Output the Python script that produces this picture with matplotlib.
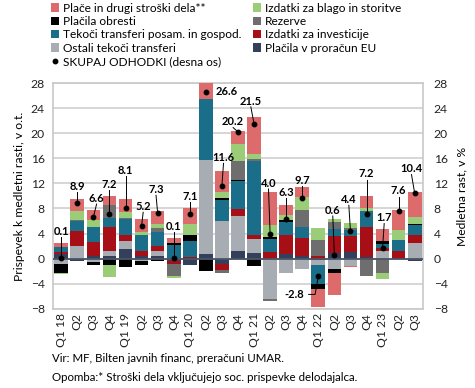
import matplotlib.pyplot as plt
import numpy as np

plt.rcParams['font.family'] = ['Lato', 'DejaVu Sans']

quarters = ['Q1 18', 'Q2', 'Q3', 'Q4', 'Q1 19', 'Q2', 'Q3', 'Q4', 'Q1 20', 'Q2', 'Q3', 'Q4',
            'Q1 21', 'Q2', 'Q3', 'Q4', 'Q1 22', 'Q2', 'Q3', 'Q4', 'Q1 23', 'Q2', 'Q3']

# contributions, percentage points (stacking order = Excel series order)
eu       = [0.7, -0.3, 0.5, 0.5, 1.6, 0.4, 0.5, -0.4, -1.0, 0.8, -0.9, 1.3, 0.9, 0.0, 0.8, 0.5, -0.2, 0.9, 1.0, 0.3, 0.0, 0.1, -0.4]
ostali   = [-0.9, 2.0, -0.6, 0.8, 1.2, -0.4, 0.7, 0.0, 0.0, 14.9, 6.0, 5.5, 2.2, -6.5, -2.3, -1.7, -0.8, -1.7, -1.1, 0.0, 1.2, 0.0, 2.5]
invest   = [0.3, 2.4, 2.1, 3.7, 0.9, 0.9, 0.8, -0.4, 0.3, 0.0, -0.9, 1.1, 0.6, 1.0, 3.0, 2.8, 0.5, 2.7, 2.6, 4.7, 0.5, 1.1, 1.3]
tekoci   = [0.8, 1.6, 2.4, 1.5, 2.6, 2.4, 2.2, 2.1, 2.5, 9.8, 3.4, 4.5, 11.9, 2.1, 2.0, 1.8, -3.1, 1.2, 1.0, 2.6, 0.6, 1.8, 1.6]
obresti  = [-1.4, 0.0, -0.4, -1.0, -1.4, -0.6, -0.3, 0.4, 1.0, -2.0, 0.2, 0.2, -1.1, 0.4, 0.4, 0.0, -0.8, -0.6, 0.0, 0.0, 0.5, 0.0, 0.1]
rezerve  = [0.1, 0.2, 0.0, 2.1, 0.2, 0.0, 0.7, -2.0, 0.0, 0.0, -0.5, 2.9, 0.3, -0.3, 0.0, 2.7, 2.5, 1.0, 0.3, -2.8, -2.3, 0.0, 0.0]
blago    = [-0.2, 1.4, 1.2, -1.9, 1.0, 0.5, 0.7, -0.3, 1.7, 0.0, 1.1, 2.8, 0.8, 1.9, 0.8, 2.0, 1.9, 0.5, 0.8, 0.4, -0.9, 1.6, 1.2]
place    = [0.6, 1.9, 1.5, 1.4, 2.0, 2.1, 2.0, 0.8, 2.5, 3.0, 3.2, 2.0, 5.9, 5.2, 1.6, 1.7, -2.8, -3.5, -0.2, 2.0, 2.0, 3.2, 4.0]

skupaj = [0.1, 8.9, 6.6, 7.2, 8.1, 5.2, 7.3, 0.1, 7.1, 26.6, 11.6, 20.2, 21.5, 4.0, 6.3, 9.7, -2.8, 0.6, 4.4, 7.2, 1.7, 7.6, 10.4]
# label positions (x offset in bars, y in %)
lab_dx = [0, 0, 0.2, 0, 0, 0.1, -0.1, 0, 0, 1.2, 0.1, -0.3, -0.2, -0.1, 0, 0, -1.5, -0.1, -0.1, 0, 0.1, 0, -0.2]
lab_y  = [4.4, 11.5, 9.6, 11.8, 14.0, 8.3, 11.0, 5.1, 9.9, 26.6, 16.1, 21.8, 25.1, 12.0, 10.5, 12.5, -5.7, 7.7, 9.4, 13.5, 6.5, 10.8, 14.3]

series = [
    ('Plačila v proračun EU', eu, '#343f5c'),
    ('Ostali tekoči transferi', ostali, '#a7adb2'),
    ('Izdatki za investicije', invest, '#a50f15'),
    ('Tekoči transferi posam. in gospod.', tekoci, '#1b6e8a'),
    ('Plačila obresti', obresti, '#000000'),
    ('Rezerve', rezerve, '#6e6e6e'),
    ('Izdatki za blago in storitve', blago, '#9bcc78'),
    ('Plače in drugi stroški dela**', place, '#de6b6c'),
]

fig = plt.figure(figsize=(4.75, 3.88), dpi=100)
ax = fig.add_axes([0.112, 0.204, 0.778, 0.582])
x = np.arange(len(quarters))
pos = np.zeros(len(x))
neg = np.zeros(len(x))
handles = {}
for name, vals, col in series:
    v = np.array(vals)
    bottom = np.where(v >= 0, pos, neg)
    b = ax.bar(x, v, 0.85, bottom=bottom, color=col, label=name, zorder=3)
    handles[name] = b
    pos += np.where(v >= 0, v, 0)
    neg += np.where(v < 0, v, 0)

ax.set_xlim(-0.5, 22.5)
ax.set_ylim(-8, 28)
ax.set_yticks(range(-8, 29, 4))
ax.grid(axis='y', color='#d0d0d0', lw=1.2, zorder=0)
ax.axhline(0, color='#4a5566', lw=1.3, zorder=4)
for s in ax.spines.values():
    s.set_color('#c8c8c8')
    s.set_linewidth(1.2)
ax.set_xticks(x)
ax.set_xticklabels(quarters, rotation=90, fontsize=8.3)
ax.tick_params(length=0, labelsize=8.7, colors='#222222')
ax.tick_params(axis='x', pad=3)
ax.tick_params(axis='y', pad=6)
ax.set_ylabel('Prispevek k medletni rasti, v o.t.', fontsize=8.7)

ax2 = ax.twinx()
ax2.set_ylim(-8, 28)
ax2.set_yticks(range(-8, 29, 4))
ax2.tick_params(length=0, labelsize=8.7, colors='#222222', pad=8)
for s in ax2.spines.values():
    s.set_visible(False)
ax2.set_ylabel('Medletna rast, v %', fontsize=8.7, labelpad=6)
dots, = ax2.plot(x, skupaj, 'o', color='black', ms=3.2, ls='none', zorder=6,
                 label='SKUPAJ ODHODKI (desna os)')
for i, val in enumerate(skupaj):
    lx = x[i] + lab_dx[i]
    ly = lab_y[i]
    if i == 9:
        ax2.text(lx - 0.6, ly, f'{val:.1f}', fontsize=8, fontweight='bold', ha='left', va='center')
        continue
    if i == 16:
        ax2.plot([lx + 0.9, x[i] - 0.2, x[i]], [ly, ly, val], color='black', lw=0.7, zorder=5)
        ax2.text(lx, ly, f'{val:.1f}', fontsize=8, fontweight='bold', ha='center', va='center')
        continue
    ax2.plot([lx, x[i]], [ly - 0.9, val], color='black', lw=0.7, zorder=5)
    ax2.text(lx, ly, f'{val:.1f}', fontsize=8, fontweight='bold', ha='center', va='center')

order_left = ['Plače in drugi stroški dela**', 'Plačila obresti', 'Tekoči transferi posam. in gospod.',
              'Ostali tekoči transferi']
order_right = ['Izdatki za blago in storitve', 'Rezerve', 'Izdatki za investicije', 'Plačila v proračun EU']
h = [handles[n] for n in order_left] + [dots] + [handles[n] for n in order_right]
l = order_left + ['SKUPAJ ODHODKI (desna os)'] + order_right
leg = fig.legend(h, l, loc='upper left', bbox_to_anchor=(0.092, 1.012), ncol=2, frameon=False,
                 fontsize=8.6, handlelength=0.7, handleheight=0.7, handletextpad=0.3,
                 columnspacing=1.0, labelspacing=0.2, borderaxespad=0.2)

fig.text(0.11, 0.066, 'Vir: MF, Bilten javnih financ, preračuni UMAR.', fontsize=8.3)
fig.text(0.11, 0.018, 'Opomba:* Stroški dela vključujejo soc. prispevke delodajalca.', fontsize=8.3)

fig.savefig('out.png', dpi=100)
